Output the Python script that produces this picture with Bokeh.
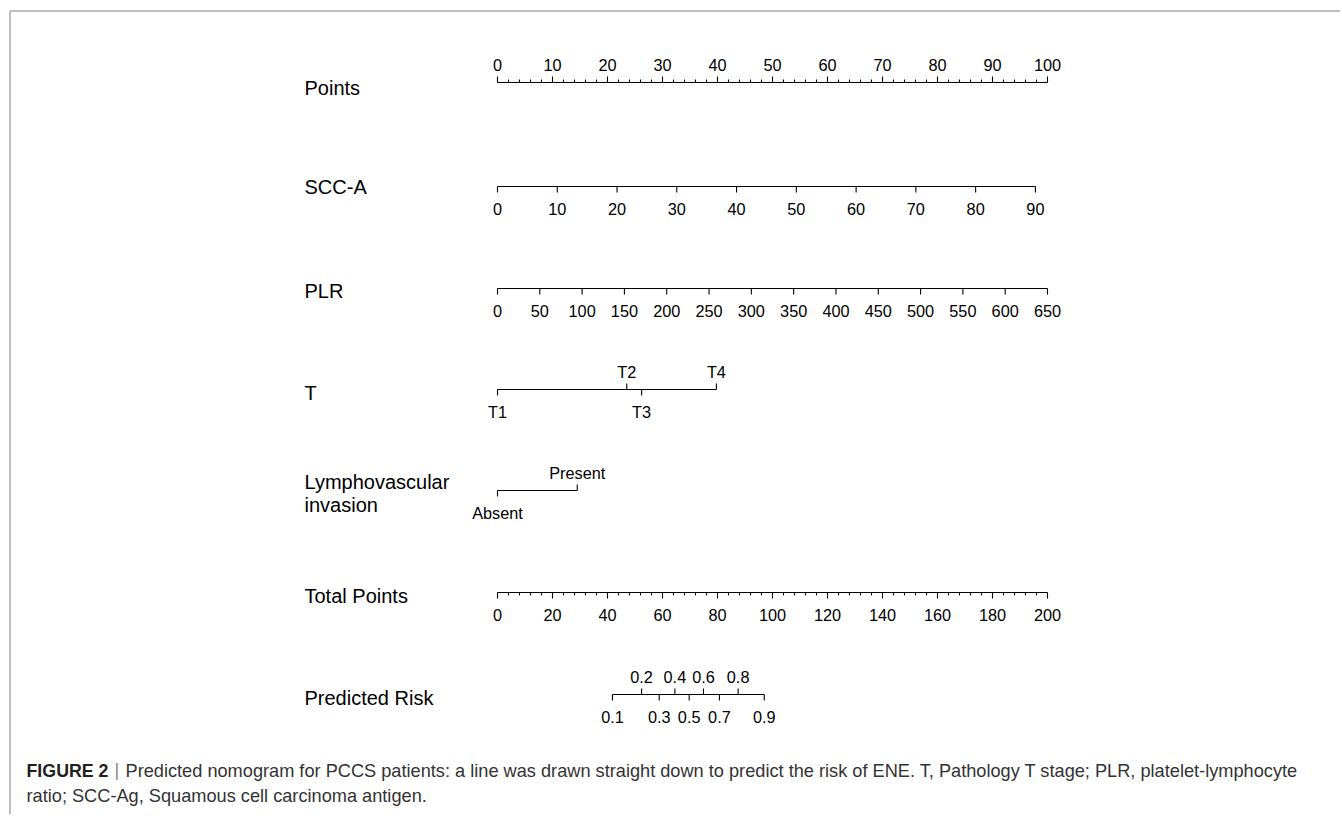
from bokeh.plotting import figure
from bokeh.models import Range1d, ColumnDataSource
from bokeh.core.properties import value
from bokeh.embed import file_html
from bokeh.resources import INLINE

# ---------------- data ----------------
points_major = list(range(0, 101, 10))
points_minor = list(range(0, 101, 2))

scc_ticks = list(range(0, 91, 10))
scc_max_value = 90
scc_max_points = 97.8          # SCC-A = 90 sits at ~97.8 points

plr_ticks = list(range(0, 651, 50))
plr_max_value = 650
plr_max_points = 100.0

t_labels = ["T1", "T2", "T3", "T4"]
t_points = [0.0, 23.5, 26.2, 39.8]
t_sides = ["below", "above", "below", "above"]

lvi_labels = ["Absent", "Present"]
lvi_points = [0.0, 14.5]
lvi_sides = ["below", "above"]

total_major = list(range(0, 201, 20))
total_minor = list(range(0, 201, 4))
total_max = 200

risk_labels = ["0.1", "0.2", "0.3", "0.4", "0.5", "0.6", "0.7", "0.8", "0.9"]
risk_total_points = [41.8, 52.4, 58.8, 64.5, 69.7, 74.9, 80.7, 87.5, 97.0]
risk_sides = ["below", "above", "below", "above", "below", "above", "below", "above", "below"]

row_names = ["Points", "SCC-A", "PLR", "T", "Lymphovascular", "invasion",
             "Total Points", "Predicted Risk"]

caption_bold = "FIGURE 2"
caption_line1 = ("Predicted nomogram for PCCS patients: a line was drawn straight down to "
                 "predict the risk of ENE. T, Pathology T stage; PLR, platelet-lymphocyte")
caption_line2 = "ratio; SCC-Ag, Squamous cell carcinoma antigen."

# ---------------- layout ----------------
W, H = 1340, 814
PAGE_OFF = 0
PX_PER_POINT = 5.5
POINT0_PX = 497.0


def px2x(px):
    return (px - POINT0_PX) / PX_PER_POINT


ROW_Y = dict(points=82, scc=186, plr=288, t=389, lvi=490, total=592, risk=694)
ROW_LABEL_Y = [87, 186, 290, 392, 481, 504, 595, 697]
ROW_LABEL_PX = 304
TICK_MAJOR = 6
TICK_MINOR = 3
ABOVE_OFF = 18
BELOW_OFF = 22

FONT = "Liberation Sans"
TICK_FS = "16.3px"
ROW_FS = "20px"
CAP_FS = "18.2px"
CAP_BOLD_FS = "17.8px"

p = figure(width=W, height=H,
           x_range=Range1d(px2x(PAGE_OFF), px2x(PAGE_OFF + W)),
           y_range=Range1d(PAGE_OFF + H, PAGE_OFF),
           output_backend="svg", toolbar_location=None,
           x_axis_type=None, y_axis_type=None, min_border=0,
           outline_line_color=None, background_fill_color="white",
           border_fill_color="white")
p.xgrid.visible = False
p.ygrid.visible = False

# frame border (top and left only)
p.segment(x0=[px2x(9.5), px2x(9.5)], y0=[10.5, 10.5],
          x1=[px2x(W + 5), px2x(9.5)], y1=[10.5, H + 5],
          line_color="#aaaaaa", line_width=1.5)

seg = dict(x0=[], y0=[], x1=[], y1=[])
txt = dict(x=[], y=[], text=[])


def add_seg(x0, y0, x1, y1):
    seg["x0"].append(x0); seg["y0"].append(y0)
    seg["x1"].append(x1); seg["y1"].append(y1)


def add_scale(y, pts, labels, sides, minor_pts=()):
    add_seg(min(pts), y, max(pts), y)
    for x, lab, side in zip(pts, labels, sides):
        if side == "above":
            add_seg(x, y, x, y - TICK_MAJOR)
            txt["x"].append(x); txt["y"].append(y - ABOVE_OFF)
        else:
            add_seg(x, y, x, y + TICK_MAJOR)
            txt["x"].append(x); txt["y"].append(y + BELOW_OFF)
        txt["text"].append(lab)
    side0 = sides[0]
    for x in minor_pts:
        if x in pts:
            continue
        if side0 == "above":
            add_seg(x, y, x, y - TICK_MINOR)
        else:
            add_seg(x, y, x, y + TICK_MINOR)


# Points
add_scale(ROW_Y["points"], [float(v) for v in points_major], [str(v) for v in points_major],
          ["above"] * len(points_major), [float(v) for v in points_minor])
# SCC-A
add_scale(ROW_Y["scc"], [v * scc_max_points / scc_max_value for v in scc_ticks],
          [str(v) for v in scc_ticks], ["below"] * len(scc_ticks))
# PLR
add_scale(ROW_Y["plr"], [v * plr_max_points / plr_max_value for v in plr_ticks],
          [str(v) for v in plr_ticks], ["below"] * len(plr_ticks))
# T
add_scale(ROW_Y["t"], t_points, t_labels, t_sides)
# LVI
add_scale(ROW_Y["lvi"], lvi_points, lvi_labels, lvi_sides)
# Total points
add_scale(ROW_Y["total"], [v * 100.0 / total_max for v in total_major],
          [str(v) for v in total_major], ["below"] * len(total_major),
          [v * 100.0 / total_max for v in total_minor])
# Predicted risk
add_scale(ROW_Y["risk"], [v * 100.0 / total_max for v in risk_total_points],
          risk_labels, risk_sides)

p.segment(x0="x0", y0="y0", x1="x1", y1="y1", source=ColumnDataSource(seg),
          line_color="black", line_width=1.1)
p.text(x="x", y="y", text="text", source=ColumnDataSource(txt),
       text_font=value(FONT), text_font_size=TICK_FS, text_align="center",
       text_baseline="middle", text_color="black")

# row labels
p.text(x=[px2x(ROW_LABEL_PX)] * len(row_names), y=ROW_LABEL_Y, text=row_names,
       text_font=value(FONT), text_font_size=ROW_FS, text_align="left",
       text_baseline="middle", text_color="black")

# caption
p.text(x=[px2x(26)], y=[770], text=[caption_bold], text_font=value(FONT),
       text_font_size=CAP_BOLD_FS, text_font_style="bold", text_align="left",
       text_baseline="middle", text_color="#231f20")
p.text(x=[px2x(114)], y=[769], text=["|"], text_font=value(FONT),
       text_font_size=CAP_FS, text_align="left", text_baseline="middle",
       text_color="#888888")
p.text(x=[px2x(125), px2x(26)], y=[770, 795], text=[caption_line1, caption_line2],
       text_font=value(FONT), text_font_size=CAP_FS, text_align="left",
       text_baseline="middle", text_color="#333333")

open("out.html", "w").write(file_html(p, INLINE))
